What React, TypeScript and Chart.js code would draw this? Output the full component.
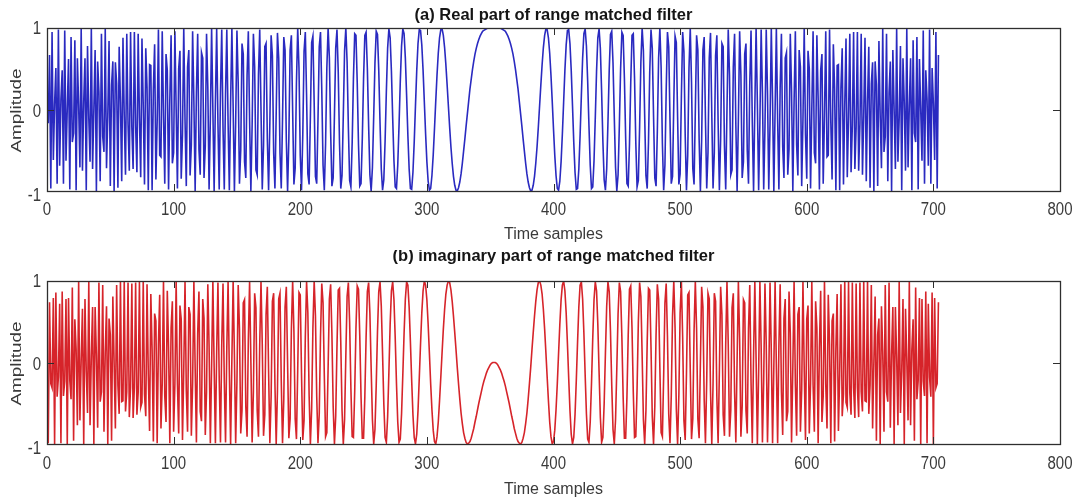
import React, { useEffect, useRef } from "react";
import { Chart, registerables } from "chart.js";

Chart.register(...registerables);

// ---- data (sample n = SAMPLE_START + index) ----
const SAMPLE_START = 1;

const REAL_PART: number[] = [
-.17,.67,-.97,.95,-.62,.07,.51,-.91,.98,-.69,
.13,.48,-.91,.97,-.63,.01,.62,-.98,.89,-.4,
-.29,.85,-.99,.63,.05,-.71,1,-.75,.09,.63,
-.99,.78,-.1,-.64,1,-.73,0,.73,-1,.59,
.21,-.88,.93,-.33,-.52,.99,-.72,-.09,.84,-.94,
.3,.59,-1,.58,.32,-.96,.77,.09,-.88,.88,
-.08,-.8,.93,-.18,-.75,.95,-.22,-.73,.95,-.2,
-.77,.93,-.1,-.83,.87,.05,-.92,.75,.27,-.99,
.55,.54,-.99,.25,.8,-.86,-.15,.98,-.56,-.58,
.96,-.08,-.91,.68,.48,-.98,.13,.91,-.66,-.53,
.96,0,-.97,.5,.72,-.85,-.31,1,-.13,-.94,
.52,.73,-.81,-.43,.96,.1,-1,.22,.93,-.49,
-.8,.7,.63,-.84,-.45,.93,.27,-.98,-.12,1,
-.01,-1,.1,.99,-.17,-.98,.21,.98,-.22,-.98,
.2,.98,-.16,-.99,.08,1,.03,-1,-.16,.97,
.32,-.91,-.5,.81,.68,-.64,-.84,.42,.96,-.13,
-1,-.19,.93,.52,-.74,-.8,.42,.98,0,-.98,
-.44,.77,.81,-.36,-.99,-.16,.91,.66,-.53,-.97,
-.05,.94,.63,-.53,-.97,-.12,.89,.73,-.37,-1,
-.36,.73,.91,-.02,-.92,-.72,.33,1,.51,-.56,
-.99,-.31,.71,.95,.17,-.79,-.92,-.09,.82,.9,
.08,-.82,-.91,-.13,.77,.95,.24,-.68,-.99,-.42,
.51,1,.63,-.27,-.94,-.84,-.07,.75,.98,.46,
-.41,-.97,-.81,-.07,.72,1,.58,-.22,-.87,-.95,
-.41,.38,.93,.91,.33,-.43,-.94,-.91,-.36,.38,
.91,.95,.5,-.2,-.8,-1,-.71,-.09,.57,.96,
.92,.48,-.16,-.73,-.99,-.86,-.39,.22,.75,.99,
.88,.47,-.1,-.63,-.95,-.97,-.68,-.2,.34,.78,
.99,.93,.63,.17,-.32,-.73,-.97,-.98,-.77,-.4,
.05,.48,.81,.98,.97,.79,.48,.09,-.3,-.64,
-.88,-.99,-.97,-.81,-.56,-.24,.1,.42,.69,.88,
.98,.99,.91,.76,.55,.3,.04,-.22,-.46,-.66,
-.82,-.93,-.99,-1,-.96,-.89,-.79,-.66,-.51,-.36,
-.2,-.05,.1,.25,.37,.49,.59,.68,.75,.81,
.86,.9,.93,.96,.97,.98,.99,1,1,1,
1,1,
1,
1,1,1,1,1,.99,.98,.97,.96,.93,
.9,.86,.81,.75,.68,.59,.49,.37,.25,.1,
-.05,-.2,-.36,-.51,-.66,-.79,-.89,-.96,-1,-.99,
-.93,-.82,-.66,-.46,-.22,.04,.3,.55,.76,.91,
.99,.98,.88,.69,.42,.1,-.24,-.56,-.81,-.97,
-.99,-.88,-.64,-.3,.09,.48,.79,.97,.98,.81,
.48,.05,-.4,-.77,-.98,-.97,-.73,-.32,.17,.63,
.93,.99,.78,.34,-.2,-.68,-.97,-.95,-.63,-.1,
.47,.88,.99,.75,.22,-.39,-.86,-.99,-.73,-.16,
.48,.92,.96,.57,-.09,-.71,-1,-.8,-.2,.5,
.95,.91,.38,-.36,-.91,-.94,-.43,.33,.91,.93,
.38,-.41,-.95,-.87,-.22,.58,1,.72,-.07,-.81,
-.97,-.41,.46,.98,.75,-.07,-.84,-.94,-.27,.63,
1,.51,-.42,-.99,-.68,.24,.95,.77,-.13,-.91,
-.82,.08,.9,.82,-.09,-.92,-.79,.17,.95,.71,
-.31,-.99,-.56,.51,1,.33,-.72,-.92,-.02,.91,
.73,-.36,-1,-.37,.73,.89,-.12,-.97,-.53,.63,
.94,-.05,-.97,-.53,.66,.91,-.16,-.99,-.36,.81,
.77,-.44,-.98,0,.98,.42,-.8,-.74,.52,.93,
-.19,-1,-.13,.96,.42,-.84,-.64,.68,.81,-.5,
-.91,.32,.97,-.16,-1,.03,1,.08,-.99,-.16,
.98,.2,-.98,-.22,.98,.21,-.98,-.17,.99,.1,
-1,-.01,1,-.12,-.98,.27,.93,-.45,-.84,.63,
.7,-.8,-.49,.93,.22,-1,.1,.96,-.43,-.81,
.73,.52,-.94,-.13,1,-.31,-.85,.72,.5,-.97,
0,.96,-.53,-.66,.91,.13,-.98,.48,.68,-.91,
-.08,.96,-.58,-.56,.98,-.15,-.86,.8,.25,-.99,
.54,.55,-.99,.27,.75,-.92,.05,.87,-.83,-.1,
.93,-.77,-.2,.95,-.73,-.22,.95,-.75,-.18,.93,
-.8,-.08,.88,-.88,.09,.77,-.96,.32,.58,-1,
.59,.3,-.94,.84,-.09,-.72,.99,-.52,-.33,.93,
-.88,.21,.59,-1,.73,0,-.73,1,-.64,-.1,
.78,-.99,.63,.09,-.75,1,-.71,.05,.63,-.99,
.85,-.29,-.4,.89,-.98,.62,.01,-.63,.97,-.91,
.48,.13,-.69,.98,-.91,.51,.07,-.62,.95,-.97,.67
];

const IMAG_PART: number[] = [
-.99,.74,-.26,-.31,.79,-1,.86,-.42,-.18,.72,
-.99,.87,-.41,-.23,.78,-1,.79,-.22,-.45,.92,
-.96,.53,.16,-.77,1,-.71,.04,.66,-1,.78,
-.11,-.62,.99,-.77,.07,.68,-1,.68,.09,-.8,
.98,-.48,-.36,.95,-.85,.13,.69,-1,.54,.34,
-.96,.81,0,-.81,.95,-.28,-.63,1,-.48,-.47,
1,-.6,-.36,.98,-.67,-.3,.97,-.68,-.31,.98,
-.64,-.37,.99,-.55,-.49,1,-.39,-.66,.96,-.15,
-.84,.84,.16,-.97,.6,.51,-.99,.22,.83,-.81,
-.26,1,-.41,-.73,.88,.18,-.99,.42,.75,-.85,
-.27,1,-.26,-.87,.7,.53,-.95,-.09,.99,-.34,
-.85,.68,.59,-.9,-.26,1,-.07,-.98,.36,.87,
-.6,-.72,.78,.54,-.89,-.36,.96,.2,-.99,-.05,
1,-.06,-.99,.14,.98,-.2,-.98,.22,.97,-.22,
-.98,.18,.99,-.12,-1,.03,1,.09,-.99,-.24,
.95,.41,-.87,-.59,.73,.77,-.54,-.91,.28,.99,
.03,-.98,-.36,.85,.67,-.59,-.91,.22,1,.22,
-.9,-.64,.59,.93,-.11,-.99,-.42,.75,.85,-.26,
-1,-.35,.78,.85,-.22,-.99,-.45,.68,.93,-.01,
-.93,-.69,.41,1,.38,-.69,-.94,-.09,.86,.83,
-.14,-.95,-.71,.31,.99,.61,-.4,-1,-.57,.43,
1,.57,-.41,-.99,-.63,.32,.97,.73,-.16,-.91,
-.86,-.07,.78,.96,.35,-.54,-1,-.66,.19,.89,
.91,.25,-.59,-1,-.7,.09,.81,.98,.49,-.32,
-.91,-.92,-.36,.42,.94,.9,.33,-.42,-.93,-.93,
-.42,.31,.87,.98,.6,-.07,-.7,-1,-.82,-.28,
.38,.87,.99,.69,.11,-.51,-.92,-.98,-.67,-.12,
.47,.88,.99,.77,.3,-.26,-.73,-.98,-.94,-.63,
-.15,.36,.78,.99,.95,.68,.25,-.22,-.64,-.92,
-1,-.88,-.59,-.19,.23,.61,.88,1,.95,.77,
.47,.11,-.26,-.58,-.83,-.97,-1,-.91,-.73,-.47,
-.18,.12,.41,.65,.84,.95,1,.98,.89,.75,
.57,.37,.16,-.06,-.26,-.45,-.62,-.75,-.86,-.93,
-.98,-1,-.99,-.97,-.93,-.87,-.81,-.73,-.66,-.58,
-.5,-.43,-.36,-.29,-.23,-.18,-.13,-.09,-.06,-.03,
-.01,0,
0,
0,-.01,-.03,-.06,-.09,-.13,-.18,-.23,-.29,-.36,
-.43,-.5,-.58,-.66,-.73,-.81,-.87,-.93,-.97,-.99,
-1,-.98,-.93,-.86,-.75,-.62,-.45,-.26,-.06,.16,
.37,.57,.75,.89,.98,1,.95,.84,.65,.41,
.12,-.18,-.47,-.73,-.91,-1,-.97,-.83,-.58,-.26,
.11,.47,.77,.95,1,.88,.61,.23,-.19,-.59,
-.88,-1,-.92,-.64,-.22,.25,.68,.95,.99,.78,
.36,-.15,-.63,-.94,-.98,-.73,-.26,.3,.77,.99,
.88,.47,-.12,-.67,-.98,-.92,-.51,.11,.69,.99,
.87,.38,-.28,-.82,-1,-.7,-.07,.6,.98,.87,
.31,-.42,-.93,-.93,-.42,.33,.9,.94,.42,-.36,
-.92,-.91,-.32,.49,.98,.81,.09,-.7,-1,-.59,
.25,.91,.89,.19,-.66,-1,-.54,.35,.96,.78,
-.07,-.86,-.91,-.16,.73,.97,.32,-.63,-.99,-.41,
.57,1,.43,-.57,-1,-.4,.61,.99,.31,-.71,
-.95,-.14,.83,.86,-.09,-.94,-.69,.38,1,.41,
-.69,-.93,-.01,.93,.68,-.45,-.99,-.22,.85,.78,
-.35,-1,-.26,.85,.75,-.42,-.99,-.11,.93,.59,
-.64,-.9,.22,1,.22,-.91,-.59,.67,.85,-.36,
-.98,.03,.99,.28,-.91,-.54,.77,.73,-.59,-.87,
.41,.95,-.24,-.99,.09,1,.03,-1,-.12,.99,
.18,-.98,-.22,.97,.22,-.98,-.2,.98,.14,-.99,
-.06,1,-.05,-.99,.2,.96,-.36,-.89,.54,.78,
-.72,-.6,.87,.36,-.98,-.07,1,-.26,-.9,.59,
.68,-.85,-.34,.99,-.09,-.95,.53,.7,-.87,-.26,
1,-.27,-.85,.75,.42,-.99,.18,.88,-.73,-.41,
1,-.26,-.81,.83,.22,-.99,.51,.6,-.97,.16,
.84,-.84,-.15,.96,-.66,-.39,1,-.49,-.55,.99,
-.37,-.64,.98,-.31,-.68,.97,-.3,-.67,.98,-.36,
-.6,1,-.47,-.48,1,-.63,-.28,.95,-.81,0,
.81,-.96,.34,.54,-1,.69,.13,-.85,.95,-.36,
-.48,.98,-.8,.09,.68,-1,.68,.07,-.77,.99,
-.62,-.11,.78,-1,.66,.04,-.71,1,-.77,.16,
.53,-.96,.92,-.45,-.22,.79,-1,.78,-.23,-.41,
.87,-.99,.72,-.18,-.42,.86,-1,.79,-.31,-.26,.74
];

const X_TICKS = [0, 100, 200, 300, 400, 500, 600, 700, 800];
const Y_TICKS = [-1, 0, 1];
const TITLE_A = "(a) Real part of range matched filter";
const TITLE_B = "(b) imaginary part of range matched filter";
const X_LABEL = "Time samples";
const Y_LABEL = "Amplitude";

// ---- styles ----
const W = 1075;
const FONT = '"Liberation Sans", Arial, Helvetica, sans-serif';
const AXIS_COLOR = "#2e2e2e";
const TEXT_COLOR = "#3a3a3a";
const TICK_LEN = 7;

type Panel = {
  top: number;
  height: number;
  padTop: number;
  xAxisH: number;
  title: string;
  titleBaseline: number;
  xTickMid: number;
  xLabelBaseline: number;
  values: number[];
  color: string;
};

const PANELS: Panel[] = [
  { top: 0, height: 250, padTop: 28, xAxisH: 59, title: TITLE_A, titleBaseline: 20, xTickMid: 19.5, xLabelBaseline: 47.5, values: REAL_PART, color: "rgb(42,42,192)" },
  { top: 250, height: 253, padTop: 31, xAxisH: 59, title: TITLE_B, titleBaseline: 11, xTickMid: 20, xLabelBaseline: 50, values: IMAG_PART, color: "rgb(214,36,42)" },
];

function drawText(
  ctx: CanvasRenderingContext2D, text: string, x: number, y: number, font: string,
  align: CanvasTextAlign, baseline: CanvasTextBaseline, sx = 1, sy = 1, rot = 0, color = TEXT_COLOR
) {
  ctx.save();
  ctx.translate(x, y);
  if (rot) ctx.rotate(rot);
  ctx.scale(sx, sy);
  ctx.font = font;
  ctx.textAlign = align;
  ctx.textBaseline = baseline;
  ctx.fillStyle = color;
  ctx.fillText(text, 0, 0);
  ctx.restore();
}

function yTickDy(v: number) {
  return v === 1 ? 1.5 : v === 0 ? 2.5 : 5;
}

function makeChart(canvas: HTMLCanvasElement, p: Panel) {
  const points = p.values.map((v, i) => ({ x: SAMPLE_START + i, y: v }));
  const axesPlugin = {
    id: "matlabAxes",
    afterDatasetsDraw(chart: any) {
      const { ctx, chartArea: a, scales } = chart;
      const xs = scales.x;
      const ys = scales.y;
      ctx.save();
      ctx.strokeStyle = AXIS_COLOR;
      ctx.lineWidth = 1.3;
      ctx.strokeRect(a.left + 0.5, a.top + 0.5, a.right - a.left, a.bottom - a.top);
      ctx.lineWidth = 1;
      ctx.beginPath();
      X_TICKS.forEach((v) => {
        const px = Math.round(xs.getPixelForValue(v)) + 0.5;
        ctx.moveTo(px, a.bottom);
        ctx.lineTo(px, a.bottom - TICK_LEN);
        ctx.moveTo(px, a.top);
        ctx.lineTo(px, a.top + TICK_LEN);
      });
      Y_TICKS.forEach((v) => {
        const py = Math.round(ys.getPixelForValue(v)) + 0.5;
        ctx.moveTo(a.left, py);
        ctx.lineTo(a.left + TICK_LEN, py);
        ctx.moveTo(a.right, py);
        ctx.lineTo(a.right - TICK_LEN, py);
      });
      ctx.stroke();
      ctx.restore();

      const tickFont = `15px ${FONT}`;
      X_TICKS.forEach((v) => {
        drawText(ctx, String(v), xs.getPixelForValue(v), a.bottom + p.xTickMid, tickFont, "center", "middle", 1, 1.2);
      });
      Y_TICKS.forEach((v) => {
        drawText(ctx, String(v), a.left - 6, ys.getPixelForValue(v) + yTickDy(v), tickFont, "right", "middle", 1, 1.2);
      });
      const cx = (a.left + a.right) / 2;
      drawText(ctx, X_LABEL, cx, a.bottom + p.xLabelBaseline, `16px ${FONT}`, "center", "alphabetic");
      drawText(ctx, Y_LABEL, 17.5, (a.top + a.bottom) / 2 + 1, `14px ${FONT}`, "center", "middle", 1.35, 1, -Math.PI / 2);
      drawText(ctx, p.title, cx, p.titleBaseline, `bold 16.5px ${FONT}`, "center", "alphabetic", 1, 1, 0, "#151515");
    },
  };

  return new Chart(canvas, {
    type: "line",
    data: {
      datasets: [
        {
          data: points,
          borderColor: p.color,
          borderWidth: 1.6,
          pointRadius: 0,
          tension: 0,
          fill: false,
        },
      ],
    },
    options: {
      animation: false,
      responsive: false,
      devicePixelRatio: 1,
      events: [],
      parsing: false,
      normalized: true,
      layout: { padding: { left: 0, right: W - 1060, top: p.padTop, bottom: 0 } },
      plugins: { legend: { display: false }, tooltip: { enabled: false }, title: { display: false } },
      scales: {
        x: {
          type: "linear",
          min: 0,
          max: 800,
          grid: { display: false },
          border: { display: false },
          ticks: { display: false, stepSize: 100 },
          afterFit: (s: any) => { s.height = p.xAxisH; },
        },
        y: {
          type: "linear",
          min: -1,
          max: 1,
          grid: { display: false },
          border: { display: false },
          ticks: { display: false, stepSize: 1 },
          afterFit: (s: any) => { s.width = 47; },
        },
      },
    },
    plugins: [axesPlugin],
  } as any);
}

export default function App() {
  const refA = useRef<HTMLCanvasElement>(null);
  const refB = useRef<HTMLCanvasElement>(null);

  useEffect(() => {
    const charts = [makeChart(refA.current!, PANELS[0]), makeChart(refB.current!, PANELS[1])];
    return () => charts.forEach((c) => c.destroy());
  }, []);

  return (
    <div style={{ position: "absolute", left: 0, top: 0, width: W, height: 503, background: "#fff", overflow: "hidden" }}>
      <canvas ref={refA} width={W} height={PANELS[0].height}
        style={{ position: "absolute", left: 0, top: PANELS[0].top, width: W, height: PANELS[0].height }} />
      <canvas ref={refB} width={W} height={PANELS[1].height}
        style={{ position: "absolute", left: 0, top: PANELS[1].top, width: W, height: PANELS[1].height }} />
    </div>
  );
}
